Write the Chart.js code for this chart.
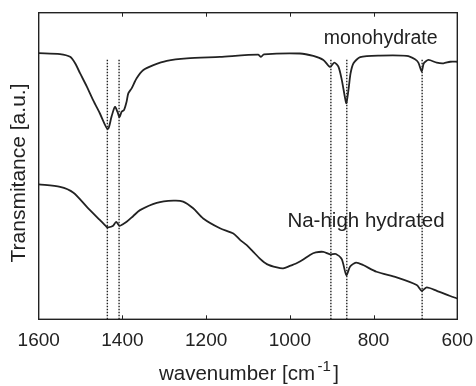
<!DOCTYPE html>
<html>
<head>
<meta charset="utf-8">
<script src="https://cdn.jsdelivr.net/npm/chart.js@4"></script>
<style>
  html, body { margin: 0; padding: 0; background: #fff; }
  #wrap { width: 476px; height: 386px; }
</style>
</head>
<body>
<div id="wrap"><canvas id="ir"></canvas></div>
<script>
// FTIR spectra, transmittance in arbitrary units (offset for clarity)
const monoWave = [1600, 1549, 1525, 1513, 1501, 1485, 1470, 1454, 1435, 1426, 1418, 1412, 1407, 1402, 1396, 1390, 1386, 1378, 1366, 1350, 1326, 1294, 1246, 1167, 1076, 1069, 1062, 976, 944, 920, 904, 894, 884, 876, 868, 865, 860, 855, 848, 832, 785, 721, 701, 693, 685, 680, 669, 649, 633, 617, 600];
const monoT = [86.8, 86.5, 85.6, 83.5, 80.2, 75.9, 71.5, 67.2, 62.0, 66.1, 69.3, 67.7, 65.9, 67.7, 68.3, 71.0, 73.7, 75.3, 78.6, 81.3, 82.9, 84.3, 85.1, 85.6, 86.3, 85.6, 86.4, 86.7, 85.9, 84.6, 82.3, 83.7, 82.4, 78.1, 72.1, 70.5, 74.8, 80.2, 83.5, 85.5, 86.0, 85.9, 84.8, 83.7, 80.8, 83.5, 84.6, 83.7, 83.5, 84.0, 84.0];

const naWave = [1600, 1549, 1517, 1485, 1454, 1438, 1434, 1423, 1415, 1407, 1398, 1390, 1374, 1358, 1318, 1278, 1255, 1231, 1207, 1167, 1135, 1119, 1103, 1088, 1071, 1055, 1031, 1016, 1000, 984, 968, 952, 938, 920, 904, 890, 876, 865, 856, 842, 825, 793, 745, 697, 685, 673, 649, 617, 600];
const naT = [44.0, 43.2, 41.3, 36.7, 32.4, 30.2, 30.0, 30.4, 31.8, 30.5, 31.1, 31.8, 33.7, 35.6, 38.0, 38.7, 38.4, 36.2, 32.9, 29.7, 28.0, 25.9, 24.2, 22.1, 19.7, 18.0, 16.9, 16.6, 17.4, 18.3, 19.5, 21.0, 21.8, 22.0, 21.2, 21.3, 19.6, 14.4, 17.2, 18.5, 17.7, 15.5, 13.7, 11.2, 9.3, 10.4, 9.3, 7.6, 6.8];

// band positions marked with dotted lines
const bandWaves = [1436, 1408, 902, 864, 684];
const bandTop = 85;

const xTicks = [1600, 1400, 1200, 1000, 800, 600];

const ink = '#222';
const fontFam = '"Liberation Sans", Arial, sans-serif';

function toPts(xs, ys) {
  return xs.map((x, i) => ({ x: x, y: ys[i] }));
}

let datasets = [
  { data: toPts(monoWave, monoT), borderColor: ink, borderWidth: 1.8, tension: 0.25 },
  { data: toPts(naWave, naT), borderColor: ink, borderWidth: 1.8, tension: 0.25 }
];
bandWaves.forEach(w => {
  datasets.push({
    data: [{ x: w, y: 0 }, { x: w, y: bandTop }],
    borderColor: '#222', borderWidth: 1.4, borderDash: [1.5, 1.5]
  });
});

// box frame, inward ticks, curve names and axis titles
const decor = {
  id: 'decor',
  afterDraw(chart) {
    const ctx = chart.ctx;
    const a = chart.chartArea;
    const xs = chart.scales.x, ys = chart.scales.y;
    ctx.save();
    ctx.strokeStyle = ink;
    ctx.lineWidth = 1.4;
    ctx.strokeRect(a.left, a.top, a.right - a.left, a.bottom - a.top);
    ctx.lineWidth = 1;
    xTicks.slice(1, -1).forEach(t => {
      const px = Math.round(xs.getPixelForValue(t)) + 0.5;
      ctx.beginPath();
      ctx.moveTo(px, a.top); ctx.lineTo(px, a.top + 4);
      ctx.moveTo(px, a.bottom); ctx.lineTo(px, a.bottom - 4);
      ctx.stroke();
    });

    ctx.fillStyle = ink;
    ctx.textAlign = 'center';
    ctx.textBaseline = 'middle';
    ctx.font = '19.5px ' + fontFam;
    ctx.fillText('monohydrate', xs.getPixelForValue(783), ys.getPixelForValue(91.7));
    ctx.font = '20.5px ' + fontFam;
    ctx.fillText('Na-high hydrated', xs.getPixelForValue(818), ys.getPixelForValue(31.8));

    // y title, rotated
    ctx.save();
    ctx.translate(19, 173);
    ctx.rotate(-Math.PI / 2);
    ctx.font = '21px ' + fontFam;
    ctx.fillText('Transmitance [a.u.]', 0, 0);
    ctx.restore();

    // wavenumber [cm^-1] with a raised exponent
    const main = 'wavenumber [cm', sup = '-1', tail = ']';
    ctx.font = '20.5px ' + fontFam;
    const wMain = ctx.measureText(main).width;
    const wTail = ctx.measureText(tail).width;
    ctx.font = '15px ' + fontFam;
    const wSup = ctx.measureText(sup).width + 5;
    const total = wMain + wSup + wTail;
    let x0 = 249 - total / 2;
    const yb = 380;
    ctx.textAlign = 'left';
    ctx.textBaseline = 'alphabetic';
    ctx.font = '20.5px ' + fontFam;
    ctx.fillText(main, x0, yb);
    ctx.font = '15px ' + fontFam;
    ctx.fillText(sup, x0 + wMain + 2.5, yb - 9);
    ctx.font = '20.5px ' + fontFam;
    ctx.fillText(tail, x0 + wMain + wSup, yb);
    ctx.restore();
  }
};

new Chart(document.getElementById('ir'), {
  type: 'line',
  data: { datasets: datasets },
  options: {
    responsive: true,
    maintainAspectRatio: false,
    animation: false,
    events: [],
    elements: { point: { radius: 0 } },
    layout: { padding: { top: 12.7, right: 18.7, left: 0, bottom: 0 } },
    plugins: { legend: { display: false }, tooltip: { enabled: false } },
    scales: {
      x: {
        type: 'linear',
        reverse: true,
        min: 600,
        max: 1600,
        afterFit: s => { s.height = 66.7; s.paddingLeft = 0; s.paddingRight = 0; },
        afterBuildTicks: s => { s.ticks = xTicks.map(v => ({ value: v })); },
        grid: { display: false, drawTicks: false },
        border: { display: false },
        ticks: {
          color: ink,
          font: { family: fontFam, size: 19 },
          padding: 10,
          maxRotation: 0,
          autoSkip: false,
          callback: v => String(v)
        }
      },
      y: {
        min: 0,
        max: 100,
        afterFit: s => { s.width = 38.7; s.paddingTop = 0; s.paddingBottom = 0; },
        grid: { display: false, drawTicks: false },
        border: { display: false },
        ticks: { display: false }
      }
    }
  },
  plugins: [decor]
});
</script>
</body>
</html>
